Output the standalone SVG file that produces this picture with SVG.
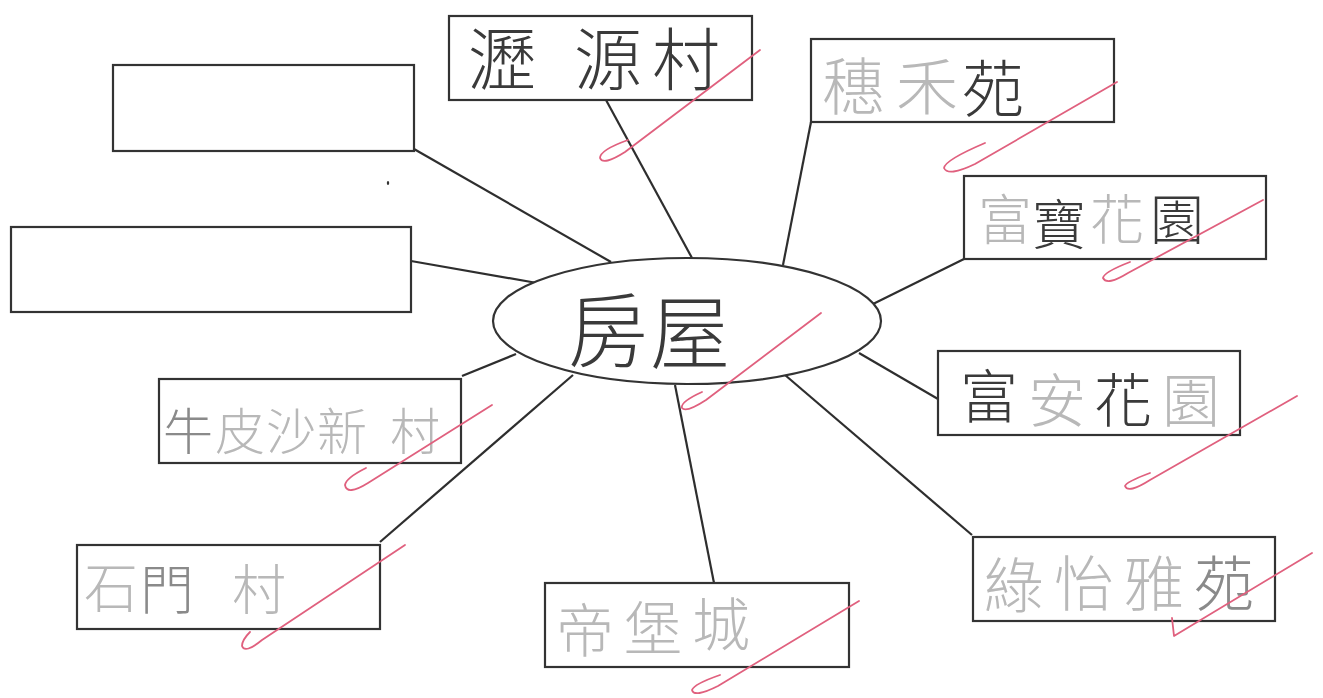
<svg xmlns="http://www.w3.org/2000/svg" width="1323" height="698" viewBox="0 0 1323 698">
<style>
.box{fill:#fff;stroke:#333;stroke-width:2.2}
.ell{fill:#fff;stroke:#333;stroke-width:2.2}
.con line{stroke:#2e2e2e;stroke-width:2.2}
.t{font-family:"Noto Sans CJK TC","Noto Sans CJK SC",sans-serif;font-weight:300}
.d{fill:#3a3a3a}
.g{fill:#b8b8b8}
.m{fill:#8a8a8a}
.tick path{fill:none;stroke:#e0607e;stroke-width:1.8;stroke-linecap:round;stroke-linejoin:round}
</style>
<rect width="1323" height="698" fill="#fff"/>
<g class="con">
<line x1="414" y1="149" x2="611" y2="262"/>
<line x1="411" y1="261" x2="537" y2="283"/>
<line x1="606" y1="100" x2="692" y2="258"/>
<line x1="811" y1="122" x2="783" y2="265"/>
<line x1="964" y1="259" x2="873" y2="304"/>
<line x1="938" y1="399" x2="859" y2="353"/>
<line x1="972" y1="535" x2="785" y2="375"/>
<line x1="714" y1="583" x2="675" y2="385"/>
<line x1="380" y1="542" x2="573" y2="375"/>
<line x1="462" y1="376" x2="516" y2="354"/>
</g>
<g id="center">
<ellipse class="ell" cx="687" cy="321" rx="194" ry="63"/>
<text class="t d" font-size="80"><tspan x="568" y="360">房</tspan><tspan x="650" y="362">屋</tspan></text>
</g>
<g id="blank1"><rect class="box" x="113" y="65" width="301" height="86"/></g>
<g id="blank2"><rect class="box" x="11" y="227" width="400" height="85"/></g>
<g id="lekyuen">
<rect class="box" x="449" y="16" width="303" height="84"/>
<text class="t d" font-size="68"><tspan x="468" y="85">瀝</tspan><tspan x="574" y="85">源</tspan><tspan x="652" y="85">村</tspan></text>
</g>
<g id="suiwo">
<rect class="box" x="811" y="39" width="303" height="83"/>
<text class="t" font-size="62"><tspan class="g" x="822" y="110">穗</tspan><tspan class="g" x="896" y="110">禾</tspan><tspan class="d" x="962" y="112">苑</tspan></text>
</g>
<g id="fupo">
<rect class="box" x="964" y="176" width="302" height="83"/>
<text class="t" font-size="54"><tspan class="g" x="978" y="240">富</tspan><tspan class="d" x="1032" y="245">寶</tspan><tspan class="g" x="1090" y="240">花</tspan><tspan class="d" x="1150" y="240">園</tspan></text>
</g>
<g id="fuon">
<rect class="box" x="938" y="351" width="302" height="84"/>
<text class="t" font-size="58"><tspan class="d" x="960" y="418">富</tspan><tspan class="g" x="1028" y="422">安</tspan><tspan class="d" x="1094" y="422">花</tspan><tspan class="g" x="1162" y="422">園</tspan></text>
</g>
<g id="chukyi">
<rect class="box" x="973" y="537" width="302" height="84"/>
<text class="t" font-size="60"><tspan class="g" x="984" y="608">綠</tspan><tspan class="g" x="1054" y="606">怡</tspan><tspan class="g" x="1124" y="606">雅</tspan><tspan class="m" x="1194" y="606">苑</tspan></text>
</g>
<g id="taipo">
<rect class="box" x="545" y="583" width="304" height="84"/>
<text class="t g" font-size="58"><tspan x="556" y="652">帝</tspan><tspan x="624" y="650">堡</tspan><tspan x="692" y="646">城</tspan></text>
</g>
<g id="shekmun">
<rect class="box" x="77" y="545" width="303" height="84"/>
<text class="t" font-size="54"><tspan class="g" x="84" y="608">石</tspan><tspan class="m" x="140" y="610">門</tspan><tspan class="g" x="232" y="610">村</tspan></text>
</g>
<g id="ngaupeisha">
<rect class="box" x="159" y="379" width="302" height="84"/>
<text class="t" font-size="50"><tspan class="m" x="163" y="450">牛</tspan><tspan class="g" x="215" y="450">皮</tspan><tspan class="g" x="266" y="450">沙</tspan><tspan class="g" x="317" y="450">新</tspan><tspan class="g" x="390" y="450">村</tspan></text>
</g>
<g class="tick">
<path d="M628 140 Q600 150 600 158 Q603 166 625 152 L760 50"/>
<path d="M985 143 Q945 160 944 168 Q948 177 975 164 L1117 82"/>
<path d="M1130 262 Q1104 272 1103 278 Q1107 286 1128 273 L1263 200"/>
<path d="M821 313 L706 400 Q686 413 682 408 Q680 402 702 392"/>
<path d="M1150 473 Q1126 482 1125 486 Q1128 494 1150 480 L1297 396"/>
<path d="M1172 618 L1174 636 L1312 553"/>
<path d="M720 675 Q694 684 692 690 Q694 698 718 686 L859 601"/>
<path d="M366 468 Q346 478 345 485 Q347 496 368 483 L492 405"/>
<path d="M250 632 Q242 640 242 646 Q245 654 262 640 L405 545"/>
</g>
<ellipse cx="388" cy="183" rx="1.2" ry="2" fill="#333"/>
</svg>
